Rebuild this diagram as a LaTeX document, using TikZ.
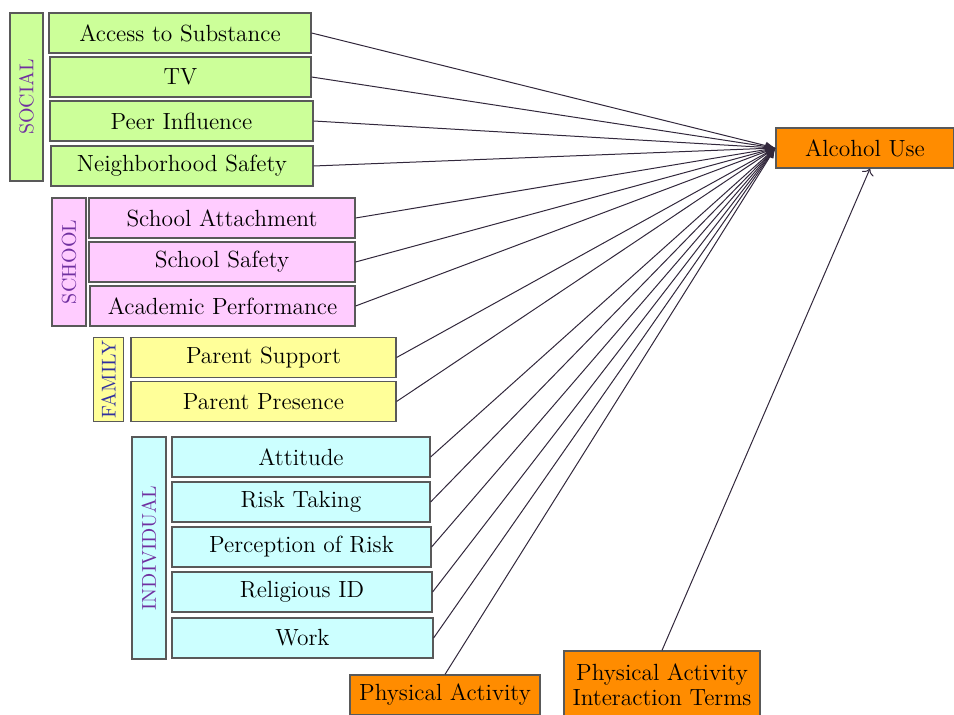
\documentclass[tikz,border=0pt]{standalone}
\usetikzlibrary{arrows.meta, calc}

\definecolor{socgreen}{RGB}{204,255,153}
\definecolor{schpink}{RGB}{255,204,255}
\definecolor{famyellow}{RGB}{255,255,153}
\definecolor{indcyan}{RGB}{204,255,255}
\definecolor{outorange}{RGB}{255,140,0}
\definecolor{grouppurple}{RGB}{112,48,160}
\definecolor{famblue}{RGB}{48,48,160}
\definecolor{linkgray}{RGB}{50,40,60}

\tikzset{
  factor/.style={draw=black!65, line width=0.6pt, minimum height=20pt, inner sep=0pt, font=\fontsize{11.7}{12.5}\selectfont},
  grouplabel/.style={draw=black!65, line width=0.6pt, rotate=90, inner sep=0pt, text=grouppurple, font=\fontsize{10}{12}\selectfont},
  link/.style={draw=linkgray, line width=0.5pt, -{Latex[length=5pt,width=4pt]}},
}

\begin{document}
\begin{tikzpicture}[x=0.5pt, y=-0.5pt]
            \useasboundingbox (0,0) rectangle (954,715);

            % outcome
            \node[factor, fill=outorange, minimum width=89pt] (alc) at (865,148) {Alcohol Use};

            % social
            \node[grouplabel, fill=socgreen, minimum width=84pt, minimum height=16.5pt] (social) at (26.5,97) {SOCIAL};
            \node[factor, fill=socgreen, minimum width=131pt] (access) at (180,33) {Access to Substance};
            \node[factor, fill=socgreen, minimum width=130.5pt] (tv) at (180.5,77) {TV};
            \node[factor, fill=socgreen, minimum width=131.5pt] (peer) at (181.5,121) {Peer Influence};
            \node[factor, fill=socgreen, minimum width=131pt] (neigh) at (182,166) {Neighborhood Safety};

            % school
            \node[grouplabel, fill=schpink, minimum width=64pt, minimum height=17pt] (school) at (69,262) {SCHOOL};
            \node[factor, fill=schpink, minimum width=133pt] (attach) at (222,218) {School Attachment};
            \node[factor, fill=schpink, minimum width=133pt] (safety) at (222,262) {School Safety};
            \node[factor, fill=schpink, minimum width=132.5pt] (acad) at (222.5,306) {Academic Performance};

            % family
            \node[grouplabel, fill=famyellow, text=famblue, minimum width=42pt, minimum height=15pt] (family) at (108.5,379.5) {FAMILY};
            \node[factor, fill=famyellow, minimum width=132.5pt] (support) at (263.5,357.5) {Parent Support};
            \node[factor, fill=famyellow, minimum width=132.5pt] (presence) at (263.5,401.5) {Parent Presence};

            % individual
            \node[grouplabel, fill=indcyan, minimum width=111pt, minimum height=17pt] (indiv) at (149,548) {INDIVIDUAL};
            \node[factor, fill=indcyan, minimum width=129pt] (attitude) at (301,457) {Attitude};
            \node[factor, fill=indcyan, minimum width=129pt] (risk) at (301,502) {Risk Taking};
            \node[factor, fill=indcyan, minimum width=129.5pt] (percep) at (301.5,547) {Perception of Risk};
            \node[factor, fill=indcyan, minimum width=130pt] (relig) at (302,592) {Religious ID};
            \node[factor, fill=indcyan, minimum width=130.5pt] (work) at (302.5,638) {Work};

            % physical activity
            \node[factor, fill=outorange, minimum width=95pt] (pa) at (445,695) {Physical Activity};
            \node[factor, fill=outorange, minimum width=98pt, minimum height=34pt, align=center] (inter) at (662,685) {Physical Activity\\Interaction Terms};

            \draw[link] (access.east) -- (alc.west);
            \draw[link] (tv.east) -- (alc.west);
            \draw[link] (peer.east) -- (alc.west);
            \draw[link] (neigh.east) -- (alc.west);
            \draw[link] (attach.east) -- (alc.west);
            \draw[link] (safety.east) -- (alc.west);
            \draw[link] (acad.east) -- (alc.west);
            \draw[link] (support.east) -- (alc.west);
            \draw[link] (presence.east) -- (alc.west);
            \draw[link] (attitude.east) -- (alc.west);
            \draw[link] (risk.east) -- (alc.west);
            \draw[link] (percep.east) -- (alc.west);
            \draw[link] (relig.east) -- (alc.west);
            \draw[link] (work.east) -- (alc.west);
            \draw[link] (pa.north) -- (alc.west);

            \draw[draw=linkgray, line width=0.5pt, -{To[length=3pt]}] (inter.north) -- ($(alc.south)+(5,0)$);
\end{tikzpicture}
\end{document}
